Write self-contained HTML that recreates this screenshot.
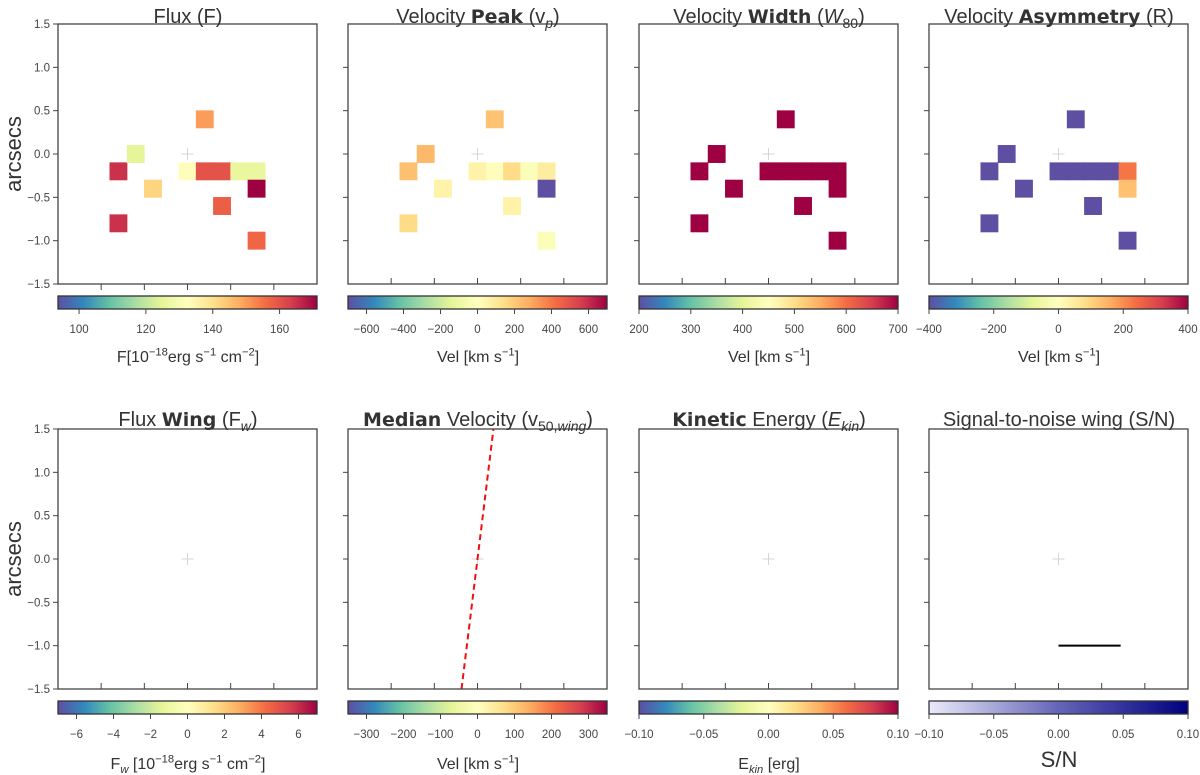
<!DOCTYPE html>
<html><head><meta charset="utf-8">
<style>
html,body{margin:0;padding:0;background:#fff;}
#wrap{position:relative;width:1200px;height:775px;overflow:hidden;font-family:"Liberation Sans",sans-serif;color:#333;}
.t{position:absolute;white-space:nowrap;transform:translateX(-50%);}
.title{font-size:20px;line-height:20px;}
.title b{font-family:"DejaVu Sans",sans-serif;font-weight:bold;font-size:19px;}
.cbl{font-size:16px;line-height:16px;}
sub,sup{font-size:70%;line-height:0;}
.ylab{position:absolute;font-size:22px;transform:translate(-50%,-50%) rotate(-90deg);white-space:nowrap;}
svg{position:absolute;left:0;top:0;}
svg text{font-family:"Liberation Sans",sans-serif;font-size:11.5px;fill:#444;}
</style></head><body>
<div id="wrap">
<svg id="svg" width="1200" height="775">
<defs>
<linearGradient id="spec" x1="0" x2="1" y1="0" y2="0">
<stop offset="0" stop-color="#5e4fa2"/><stop offset="0.1" stop-color="#3288bd"/><stop offset="0.2" stop-color="#66c2a5"/><stop offset="0.3" stop-color="#abdda4"/><stop offset="0.4" stop-color="#e6f598"/><stop offset="0.5" stop-color="#ffffbf"/><stop offset="0.6" stop-color="#fee08b"/><stop offset="0.7" stop-color="#fdae61"/><stop offset="0.8" stop-color="#f46d43"/><stop offset="0.9" stop-color="#d53e4f"/><stop offset="1" stop-color="#9e0142"/>
</linearGradient>
<linearGradient id="navy" x1="0" x2="1" y1="0" y2="0">
<stop offset="0" stop-color="#eaeafb"/><stop offset="0.5" stop-color="#6565b8"/><stop offset="1" stop-color="#000080"/>
</linearGradient>
</defs>
</svg>

<div class="t title" style="left:188px;top:7px">Flux (F)</div>
<div class="t title" style="left:478px;top:7px">Velocity <b>Peak</b> (v<sub><i>p</i></sub>)</div>
<div class="t title" style="left:769px;top:7px">Velocity <b>Width</b> (<i>W</i><sub>80</sub>)</div>
<div class="t title" style="left:1059px;top:7px">Velocity <b>Asymmetry</b> (R)</div>
<div class="t title" style="left:188px;top:410px">Flux <b>Wing</b> (F<sub><i>w</i></sub>)</div>
<div class="t title" style="left:478px;top:410px"><b>Median</b> Velocity (v<sub>50,<i>wing</i></sub>)</div>
<div class="t title" style="left:769px;top:410px"><b>Kinetic</b> Energy (<i>E<sub>kin</sub></i>)</div>
<div class="t title" style="left:1059px;top:410px">Signal-to-noise wing (S/N)</div>

<div class="ylab" style="left:14px;top:154px">arcsecs</div>
<div class="ylab" style="left:14px;top:559px">arcsecs</div>

<div class="t cbl" style="left:188px;top:350px">F[10<sup>−18</sup>erg s<sup>−1</sup> cm<sup>−2</sup>]</div>
<div class="t cbl" style="left:478px;top:350px">Vel [km s<sup>−1</sup>]</div>
<div class="t cbl" style="left:769px;top:350px">Vel [km s<sup>−1</sup>]</div>
<div class="t cbl" style="left:1059px;top:350px">Vel [km s<sup>−1</sup>]</div>
<div class="t cbl" style="left:188px;top:757px">F<sub><i>w</i></sub> [10<sup>−18</sup>erg s<sup>−1</sup> cm<sup>−2</sup>]</div>
<div class="t cbl" style="left:478px;top:757px">Vel [km s<sup>−1</sup>]</div>
<div class="t cbl" style="left:769px;top:757px">E<sub><i>kin</i></sub> [erg]</div>
<div class="t cbl" style="left:1059px;top:752px;font-size:22px">S/N</div>
</div>
<script>
// spaxel positions (arcsec)
const cellX = [-0.8,-0.6,-0.4,-0.8,0.0,0.2,0.4,0.6,0.8,0.8,0.2,0.4,0.8];
const cellY = [-0.2,0.0,-0.4,-0.8,-0.2,-0.2,-0.2,-0.2,-0.2,-0.4,0.4,-0.6,-1.0];
// values per panel
const fluxVals = [165,125,142,165,133,160,160,126,126,172,150,158,157];
const peakVals = [230,250,60,150,60,10,150,-20,80,-700,220,60,-20];
const widthVals = [700,700,700,700,700,700,700,700,700,700,700,700,700];
const asymVals = [-400,-400,-400,-400,-400,-400,-400,-400,230,130,-400,-400,-400];
// axis ticks
const axisTicks = [-1.5,-1.0,-0.5,0.0,0.5,1.0,1.5];
const axisTickLabels = ["−1.5","−1.0","−0.5","0.0","0.5","1.0","1.5"];
// colorbar ranges and ticks
const cbRanges = [[93.7,171.2],[-700,700],[200,700],[-400,400],[-7,7],[-350,350],[-0.1,0.1],[-0.1,0.1]];
const cbTicks = [[100,120,140,160],[-600,-400,-200,0,200,400,600],[200,300,400,500,600,700],[-400,-200,0,200,400],[-6,-4,-2,0,2,4,6],[-300,-200,-100,0,100,200,300],[-0.1,-0.05,0,0.05,0.1],[-0.1,-0.05,0,0.05,0.1]];
const cbTickLabels = [["100","120","140","160"],["−600","−400","−200","0","200","400","600"],["200","300","400","500","600","700"],["−400","−200","0","200","400"],["−6","−4","−2","0","2","4","6"],["−300","−200","−100","0","100","200","300"],["−0.10","−0.05","0.00","0.05","0.10"],["−0.10","−0.05","0.00","0.05","0.10"]];
// lines
const medianLineX = [-0.185,0.185];
const medianLineY = [-1.5,1.5];
const snLineX = [0.0,0.72];
const snLineY = [-1.0,-1.0];

const NS="http://www.w3.org/2000/svg";
const svg=document.getElementById('svg');
function mk(tag,attrs){const e=document.createElementNS(NS,tag);for(const k in attrs)e.setAttribute(k,attrs[k]);svg.appendChild(e);return e;}
const spec=["#5e4fa2","#3288bd","#66c2a5","#abdda4","#e6f598","#ffffbf","#fee08b","#fdae61","#f46d43","#d53e4f","#9e0142"];
function hex(h){return [parseInt(h.substr(1,2),16),parseInt(h.substr(3,2),16),parseInt(h.substr(5,2),16)];}
function cmap(t){t=Math.max(0,Math.min(1,t));const p=t*10;const i=Math.min(9,Math.floor(p));const f=p-i;const a=hex(spec[i]),b=hex(spec[i+1]);return `rgb(${a.map((v,k)=>Math.round(v+(b[k]-v)*f)).join(',')})`;}

const panelX=[58,348,639,929];
const rowY=[24,429];
const W=259,H=260;
const panels=[
 {c:0,r:0,vals:fluxVals,name:'flux'},{c:1,r:0,vals:peakVals,name:'peak'},{c:2,r:0,vals:widthVals,name:'width'},{c:3,r:0,vals:asymVals,name:'asymmetry'},
 {c:0,r:1,vals:null,name:'flux-wing'},{c:1,r:1,vals:null,name:'median'},{c:2,r:1,vals:null,name:'kinetic'},{c:3,r:1,vals:null,name:'sn'}];

panels.forEach((p,idx)=>{
  const x0=panelX[p.c], y0=rowY[p.r];
  const sx=v=>x0+(v+1.5)/3*W;
  const sy=v=>y0+(1.5-v)/3*H;
  const cell=0.2;
  const cx=sx(0),cy=sy(0);
  const c1=mk('line',{x1:cx-6,x2:cx+6,y1:cy,y2:cy,stroke:'#ccc','stroke-width':0.8});
  
  
  mk('line',{x1:cx,x2:cx,y1:cy-6,y2:cy+6,stroke:'#ccc','stroke-width':0.8});
  if(p.vals){
    const rg=cbRanges[idx];
    p.vals.forEach((v,i)=>{
      const x1=sx(cellX[i]-cell/2), x2=sx(cellX[i]+cell/2), y1=sy(cellY[i]+cell/2), y2=sy(cellY[i]-cell/2);
      const r=mk('rect',{x:x1-0.3,y:y1-0.3,width:x2-x1+0.6,height:y2-y1+0.6,fill:cmap((v-rg[0])/(rg[1]-rg[0]))});
      
      
    });
  }
  if(p.name==='median'){
    const l=mk('line',{x1:sx(medianLineX[0]),y1:sy(medianLineY[0]),x2:sx(medianLineX[1]),y2:sy(medianLineY[1]),stroke:'#ee1111','stroke-width':2,'stroke-dasharray':'6,4'});
    
    
  }
  if(p.name==='sn'){
    const l=mk('line',{x1:sx(snLineX[0]),y1:sy(snLineY[0]),x2:sx(snLineX[1]),y2:sy(snLineY[1]),stroke:'#000','stroke-width':2});
    
    
  }
  const fr=mk('rect',{x:x0,y:y0,width:W,height:H,fill:'none',stroke:'#444','stroke-width':1.3});
  
  
  axisTicks.forEach((t,i)=>{
    if(p.c===0){
      mk('line',{x1:x0-5,x2:x0,y1:sy(t),y2:sy(t),stroke:'#444','stroke-width':1});
      const tx=mk('text',{x:x0-8,y:sy(t)+4,'text-anchor':'end'});
      tx.textContent=axisTickLabels[i];
      
      
    } else if(i>0&&i<6){
      mk('line',{x1:x0-5,x2:x0,y1:sy(t),y2:sy(t),stroke:'#444','stroke-width':1});
    }
    if(i>0&&i<6){
      if(p.c===0&&p.r===0) mk('line',{x1:sx(t),x2:sx(t),y1:y0+H,y2:y0+H+6,stroke:'#444','stroke-width':1});
      else mk('line',{x1:sx(t),x2:sx(t),y1:y0+H-6,y2:y0+H,stroke:'#444','stroke-width':1});
    }
  });
  const cby=y0+H+12, cbh=13;
  const rg=cbRanges[idx];
  const cb=mk('rect',{x:x0,y:cby,width:W,height:cbh,fill:p.name==='sn'?'url(#navy)':'url(#spec)',stroke:'#333','stroke-width':1.3});
  
  
  cbTicks[idx].forEach((t,i)=>{
    const x=x0+(t-rg[0])/(rg[1]-rg[0])*W;
    mk('line',{x1:x,x2:x,y1:cby+cbh,y2:cby+cbh+5,stroke:'#444','stroke-width':1});
    const tx=mk('text',{x:x,y:cby+cbh+24,'text-anchor':'middle'});
    tx.textContent=cbTickLabels[idx][i];
    
    
  });
});
</script>
</body></html>
